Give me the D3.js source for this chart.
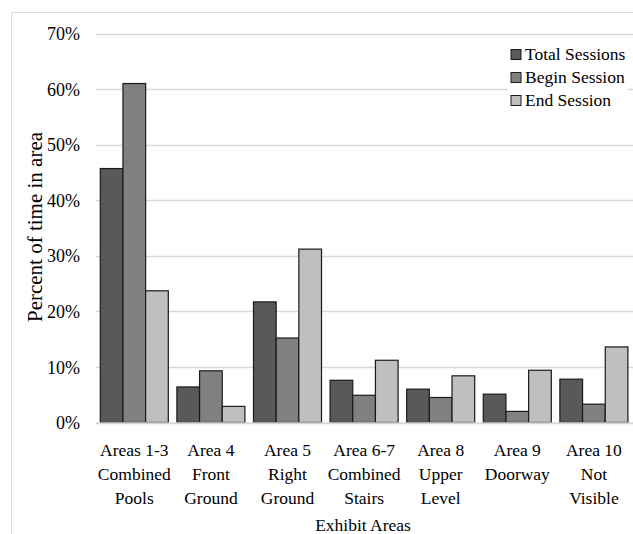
<!DOCTYPE html>
<html>
<head>
<meta charset="utf-8">
<script src="https://cdn.jsdelivr.net/npm/d3@7"></script>
</head>
<body style="margin:0">
<svg id="chart" width="633" height="534"></svg>
<script>
const categories = [
  ["Areas 1-3", "Combined", "Pools"],
  ["Area 4", "Front", "Ground"],
  ["Area 5", "Right", "Ground"],
  ["Area 6-7", "Combined", "Stairs"],
  ["Area 8", "Upper", "Level"],
  ["Area 9", "Doorway"],
  ["Area 10", "Not", "Visible"]
];
const seriesNames = ["Total Sessions", "Begin Session", "End Session"];
const totalSessions = [45.7, 6.4, 21.7, 7.6, 6.0, 5.1, 7.8];
const beginSession  = [61.0, 9.3, 15.2, 4.9, 4.5, 2.0, 3.3];
const endSession    = [23.7, 2.9, 31.2, 11.2, 8.4, 9.4, 13.6];
const yTicks = [0, 10, 20, 30, 40, 50, 60, 70];
const colors = ["#595959", "#808080", "#bfbfbf"];

const FONT = "Liberation Serif";
const series = [totalSessions, beginSession, endSession];
const svg = d3.select("#chart");

function txt(sel, size) {
  return sel.style("font-family", FONT).style("font-size", size + "px").attr("fill", "#000");
}

// outer frame (partially clipped)
svg.append("path")
  .attr("d", "M11.5,540 V12.5 H640")
  .attr("fill", "none").attr("stroke", "#d9d9d9").attr("stroke-width", 1);

const plotLeft = 96, plotRight = 633;
const y = d3.scaleLinear().domain([0, 70]).range([422.5, 33.5]);
const x0 = d3.scaleBand().domain(d3.range(categories.length))
  .range([plotLeft, plotLeft + 76.6 * 7]).paddingInner(0.112).paddingOuter(0.056);
const x1 = d3.scaleBand().domain(d3.range(3)).range([0, x0.bandwidth()]);

// gridlines
svg.append("g").selectAll("line").data(yTicks).join("line")
  .attr("x1", plotLeft).attr("x2", plotRight)
  .attr("y1", d => Math.round(y(d)) + 0.5).attr("y2", d => Math.round(y(d)) + 0.5)
  .attr("stroke", "#d9d9d9").attr("stroke-width", 1.3);

// y axis tick labels (from the scale's ticks)
const yAxis = d3.axisLeft(y).tickValues(yTicks).tickFormat(d => d + "%").tickSize(0).tickPadding(0);
const yg = svg.append("g").attr("transform", "translate(80,0)").call(yAxis);
yg.select(".domain").remove();
yg.selectAll(".tick text").remove();
yg.selectAll(".tick").append("text")
  .attr("text-anchor", "end").attr("dy", "0.34em")
  .text(d => d + "%")
  .call(txt, 18);

// bars
const groups = svg.append("g").selectAll("g").data(categories).join("g")
  .attr("transform", (d, i) => `translate(${x0(i)},0)`);
groups.selectAll("rect").data((d, i) => series.map((s, k) => ({k, v: s[i]}))).join("rect")
  .attr("x", d => x1(d.k))
  .attr("width", x1.bandwidth())
  .attr("y", d => y(d.v))
  .attr("height", d => y(0) - y(d.v))
  .attr("fill", d => colors[d.k])
  .attr("stroke", "#1a1a1a").attr("stroke-width", 1.2);

// x axis baseline
svg.append("line").attr("x1", plotLeft).attr("x2", plotRight)
  .attr("y1", 423).attr("y2", 423).attr("stroke", "#d9d9d9").attr("stroke-width", 1.3);

// category labels
const xAxis = d3.axisBottom(x0).tickSize(0).tickFormat("");
const xg = svg.append("g").attr("transform", "translate(0,423)").call(xAxis);
xg.select(".domain").remove();
xg.selectAll(".tick text").remove();
xg.selectAll(".tick").each(function(i) {
  const t = d3.select(this).append("text").attr("text-anchor", "middle").call(txt, 17.5);
  categories[i].forEach((line, j) => {
    t.append("tspan").attr("x", 0).attr("y", 33 + j * 24).text(line);
  });
});

// axis titles
svg.append("text").attr("x", 363).attr("y", 531).attr("text-anchor", "middle")
  .text("Exhibit Areas").call(txt, 17.5);
svg.append("text").attr("transform", "translate(41.5,227) rotate(-90)")
  .attr("text-anchor", "middle").text("Percent of time in area").call(txt, 21);

// legend
const lg = svg.append("g").attr("transform", "translate(510,43)");
lg.append("rect").attr("x", -2).attr("y", 0).attr("width", 120).attr("height", 68).attr("fill", "#fff");
seriesNames.forEach((name, k) => {
  const row = lg.append("g").attr("transform", `translate(0,${k * 23})`);
  row.append("rect").attr("x", 1).attr("y", 6.5).attr("width", 10).attr("height", 10)
    .attr("fill", colors[k]).attr("stroke", "#1a1a1a").attr("stroke-width", 1);
  row.append("text").attr("x", 15).attr("y", 17).text(name).call(txt, 17.5);
});
</script>
</body>
</html>
